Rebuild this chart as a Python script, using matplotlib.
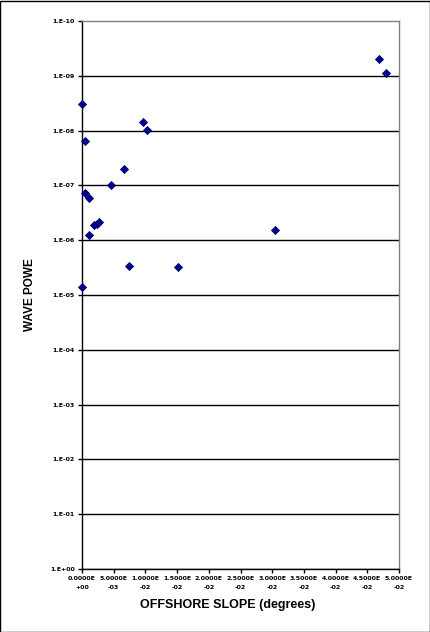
import matplotlib
matplotlib.use("Agg")
import matplotlib.pyplot as plt
from matplotlib.ticker import FixedLocator, FixedFormatter
import numpy as np

# Data (offshore slope, wave power)
slope = [0.0, 0.00047, 0.00968, 0.01025, 0.00662, 0.00453, 0.00047, 0.0011,
         0.00196, 0.00232, 0.00268, 0.0011, 0.00741, 0.0151, 0.0, 0.03044,
         0.04685, 0.04795]
power = [3.3e-9, 1.56e-8, 7.05e-9, 9.8e-9, 5.07e-8, 9.9e-8, 1.39e-7, 1.69e-7,
         5.32e-7, 4.98e-7, 4.69e-7, 8.1e-7, 2.94e-6, 3.1e-6, 7.2e-6, 6.56e-7,
         5.0e-10, 9.0e-10]

x_ticks = [0.0, 0.005, 0.01, 0.015, 0.02, 0.025, 0.03, 0.035, 0.04, 0.045, 0.05]
x_tick_labels = ["0.0000E\n+00", "5.0000E\n-03", "1.0000E\n-02", "1.5000E\n-02",
                 "2.0000E\n-02", "2.5000E\n-02", "3.0000E\n-02", "3.5000E\n-02",
                 "4.0000E\n-02", "4.5000E\n-02", "5.0000E\n-02"]
y_ticks = [1e-10, 1e-9, 1e-8, 1e-7, 1e-6, 1e-5, 1e-4, 1e-3, 1e-2, 1e-1, 1e0]
y_tick_labels = ["1.E-10", "1.E-09", "1.E-08", "1.E-07", "1.E-06", "1.E-05",
                 "1.E-04", "1.E-03", "1.E-02", "1.E-01", "1.E+00"]

W, H = 431, 632
fig = plt.figure(figsize=(W / 100, H / 100), dpi=100)
fig.patch.set_facecolor("white")
# outer border
fig.add_artist(plt.Rectangle((0.5 / W, 0.5 / H), 1 - 1.5 / W, 1 - 1.5 / H,
                             transform=fig.transFigure, fill=False,
                             edgecolor="black", linewidth=1.0))

ax = fig.add_axes([82 / W, (H - 569) / H, (399 - 82) / W, (569 - 21) / H])
ax.set_yscale("log")
ax.set_ylim(1e0, 1e-10)
ax.set_xlim(0, 0.05)

for yv in y_ticks[1:]:
    ax.axhline(yv, color="black", linewidth=1.0, zorder=1)

ax.scatter(slope, power, marker="D", s=22, color="#000080", zorder=3,
           linewidths=0, clip_on=False)

ax.xaxis.set_major_locator(FixedLocator(x_ticks))
ax.xaxis.set_major_formatter(FixedFormatter(x_tick_labels))
ax.yaxis.set_major_locator(FixedLocator(y_ticks))
ax.yaxis.set_major_formatter(FixedFormatter(y_tick_labels))
ax.yaxis.set_minor_locator(FixedLocator([]))

ax.tick_params(axis="both", which="major", direction="out", length=3,
               width=1, color="black", labelsize=4.5, pad=2)
for lbl in ax.get_xticklabels() + ax.get_yticklabels():
    lbl.set_fontweight("bold")
    lbl.set_family("DejaVu Sans")
for lbl in ax.get_xticklabels():
    lbl.set_linespacing(2.0)

ax.spines["left"].set_color("black")
ax.spines["bottom"].set_color("black")
ax.spines["top"].set_color("#808080")
ax.spines["right"].set_color("#808080")
for s in ax.spines.values():
    s.set_linewidth(1.0)

fig.text(228 / W, 1 - 605 / H, "OFFSHORE SLOPE (degrees)", ha="center",
         va="center", fontsize=9, fontweight="bold", family="Liberation Sans")
fig.text(30 / W, 1 - 295 / H, "WAVE POWE", ha="center", va="center",
         rotation=90, fontsize=8.5, fontweight="bold", family="Liberation Sans")

fig.savefig("out.png", dpi=100)
